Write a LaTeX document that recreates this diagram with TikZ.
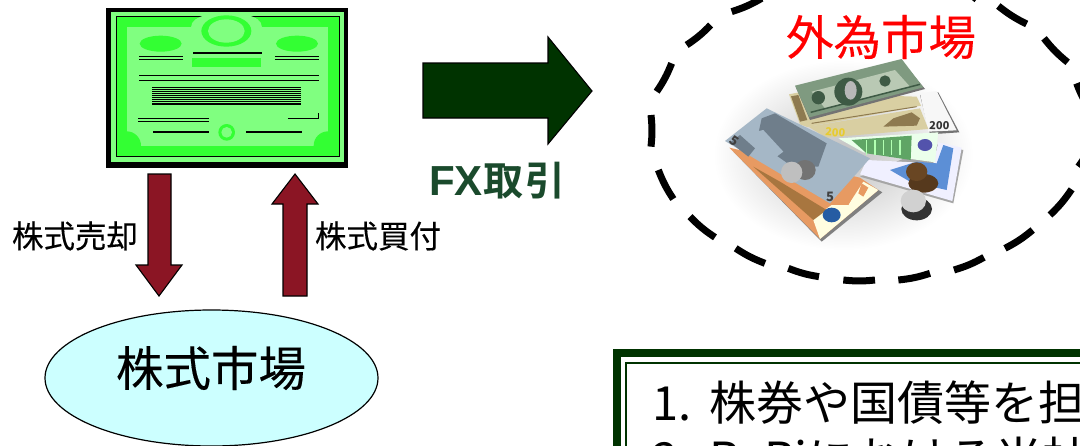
\documentclass[tikz,border=0pt]{standalone}
\usepackage{fontspec}
\setmainfont{Noto Sans CJK JP}
\newfontfamily\jpheavy[FakeBold=0.25]{Noto Sans CJK JP}
\newfontfamily\latinbold{Liberation Sans Bold}
\usetikzlibrary{shapes.geometric}
\definecolor{certlight}{HTML}{80FF80}
\definecolor{certdark}{HTML}{33FF33}
\definecolor{fxgreen}{HTML}{003300}
\definecolor{fxtext}{HTML}{1A4A2C}
\definecolor{wine}{HTML}{8B1524}
\definecolor{marketfill}{HTML}{CCFFFF}
\definecolor{slate}{HTML}{A5B7C6}
\definecolor{slatedark}{HTML}{6F7E8B}
\definecolor{dollar}{HTML}{7F9A80}
\definecolor{dollarlight}{HTML}{B9C9B4}
\definecolor{dollardark}{HTML}{3E5A45}
\definecolor{tan}{HTML}{D9CFA2}
\definecolor{tandark}{HTML}{8E7A50}
\definecolor{eurogreen}{HTML}{5FA565}
\definecolor{blueink}{HTML}{5C8FD6}
\definecolor{orangenote}{HTML}{E79A62}
\definecolor{orangedark}{HTML}{A8763F}
\tikzset{
  blockarrow/.style={draw=black,line width=1.1pt,line join=miter},
  biglabel/.style={font=\fontsize{47.5}{50}\jpheavy,inner sep=0pt,anchor=center},
  smalllabel/.style={font=\fontsize{31.5}{34}\jpheavy,inner sep=0pt,anchor=center},
  dashpiece/.style={line width=7pt,black},
  zoomscope/.style={x=0.33333pt,y=-0.33333pt},
  certline/.style={line width=1pt,black},
  certthick/.style={line width=1.7pt,black},
}
\begin{document}
\begin{tikzpicture}[x=1pt,y=-1pt]
\useasboundingbox (0,0) rectangle (1080,445);
\fill[white] (0,0) rectangle (1080,445);
\clip (0,0) rectangle (1080,445);

% certificate
\begin{scope}[shift={(90,0)},zoomscope]
  \fill[black] (48,24) rectangle (774,503);
  \fill[certlight] (64,37) rectangle (762,486);
  \fill[certdark] (78,49) rectangle (748,468);
  \draw[line width=.9pt] (78,49) rectangle (748,468);
  \fill[certlight] (110,82) rectangle (714,437);
  \fill[certlight] (303,82) .. controls (303,62) and (325,50) .. (345,46) -- (475,46) .. controls (495,50) and (516,62) .. (516,82) -- cycle;
  \fill[certdark] (409,93) ellipse [x radius=75,y radius=47];
  \fill[certlight] (409,93) ellipse [x radius=55,y radius=35];
  \fill[certdark] (212,131) ellipse [x radius=63,y radius=24];
  \fill[certdark] (621,131) ellipse [x radius=63,y radius=24];
  \begin{scope}
    \clip (110,82) rectangle (714,437);
    \fill[certdark] (110,437) circle [radius=43];
    \fill[certdark] (714,437) circle [radius=43];
  \end{scope}
  \fill[certdark] (306,175) rectangle (513,201);
  \fill[certdark] (410,397) circle [radius=25];
  \fill[certlight] (410,397) circle [radius=16];
  \draw[certthick] (310,158) -- (516,158);
  \foreach \yy in {169,179}{
    \draw[certline] (147,\yy) -- (279,\yy);
    \draw[certline] (555,\yy) -- (687,\yy);
  }
  \foreach \yy in {226,241} \draw[certline] (147,\yy) -- (687,\yy);
  \foreach \yy in {263,268,274,280,286,292,298,304,309,314} \draw[line width=.8pt] (186,\yy) -- (633,\yy);
  \foreach \yy in {354,364} \draw[certline] (144,\yy) -- (357,\yy);
  \draw[certline] (594,355) -- (686,355) -- (686,339);
  \draw[certthick] (189,396) -- (357,396);
  \draw[certthick] (468,396) -- (636,396);
\end{scope}

% block arrows
\draw[blockarrow,fill=wine] (148,174) -- (171,174) -- (171,265) -- (182,265) -- (159,296) -- (136,265) -- (148,265) -- cycle;
\draw[blockarrow,fill=wine] (295,174) -- (318,204) -- (307,204) -- (307,296) -- (283,296) -- (283,204) -- (272,204) -- cycle;
\draw[blockarrow,fill=fxgreen] (423,63) -- (548,63) -- (548,37) -- (592,91) -- (548,144) -- (548,118) -- (423,118) -- cycle;

% labels on the left
\node[smalllabel] (sell) at (75,236) {株式売却};
\node[smalllabel] (buy) at (378,236) {株式買付};
\node[draw=black,line width=1.2pt,fill=marketfill,ellipse,minimum width=333pt,minimum height=136pt,inner sep=0pt] (stockmarket) at (211.5,378) {};
\node[biglabel] (stocklabel) at (211,368) {株式市場};
\node[text=fxtext,inner sep=0pt,anchor=base west] (fx) at (429,195) {{\fontsize{42}{44}\latinbold FX}\hspace{1pt}{\fontsize{40}{42}\fontspec{Noto Sans CJK JP Bold}取\hspace{2pt}引}};

% dashed ring
\begin{scope}[shift={(640,0)},zoomscope]
  \foreach \xa/\ya/\xb/\yb in {275/35/365/-5,140/135/212/75,50/275/95/190,33/440/33/345,55/510/100/597,150/650/225/712,287/745/375/790,445/805/537/830,610/840/705/840,775/840/870/820,942/810/1032/772,1095/745/1178/690,1230/645/1295/568,1315/500/1345/450,1310/250/1345/320,1212/115/1283/187,1075/18/1160/72,990/-20/1010/-2}
    \draw[dashpiece] (\xa,\ya) to[bend right=6] (\xb,\yb);
\end{scope}
\node[biglabel,text=red] (fxmarket) at (881,37) {外為市場};

% banknotes
\begin{scope}[shift={(720,55)},zoomscope]
  \shade[inner color=black!25,outer color=white] (370,300) ellipse [x radius=390,y radius=285];
  % white note
  \fill[black!55] (600,120) -- (655,112) -- (718,232) -- (630,238) -- cycle;
  \fill[white!97!black] (600,115) -- (650,108) -- (710,226) -- (625,230) -- cycle;
  \node[font=\fontsize{11}{12}\selectfont\bfseries,text=black!80,inner sep=0pt,rotate=-2] (note200b) at (658,212) {200};
  % tan dollar
  \fill[tan] (207,118) -- (232,113) -- (590,125) -- (603,152) -- (262,216) -- (240,208) -- cycle;
  \fill[tandark] (213,124) -- (235,120) -- (262,195) -- (240,200) -- cycle;
  % green dollar
  \fill[black!55] (228,98) -- (545,18) -- (615,102) -- (270,195) -- cycle;
  \fill[dollar] (225,92) -- (545,12) -- (610,97) -- (268,187) -- cycle;
  \fill[dollarlight] (275,110) -- (525,45) -- (570,95) -- (315,160) -- cycle;
  \fill[dollardark] (385,110) ellipse [x radius=42,y radius=42];
  \fill[black!28!white] (392,106) ellipse [x radius=18,y radius=28];
  \fill[dollardark] (295,128) circle [radius=20];
  \fill[dollardark] (495,78) circle [radius=17];
  \draw[dollardark,line width=1.5pt] (272,172) -- (600,88);
  % tan 200 note
  \fill[tan] (265,215) -- (600,160) -- (625,222) -- (320,248) -- cycle;
  \fill[tandark] (490,215) -- (520,190) -- (575,172) -- (600,190) -- (590,212) -- cycle;
  \draw[tandark,line width=1pt] (275,205) -- (590,155);
  \node[font=\fontsize{11}{12}\selectfont\bfseries,text=yellow!60!brown,inner sep=0pt,rotate=-4] (note200a) at (346,233) {200};
  % blue note
  \fill[black!35] (420,365) -- (700,445) -- (730,285) -- (655,268) -- cycle;
  \fill[white!94!blue] (420,358) -- (697,438) -- (725,278) -- (655,262) -- (640,325) -- (440,315) -- cycle;
  \fill[blueink] (510,345) -- (590,320) -- (650,325) -- (670,270) -- (700,280) -- (680,405) -- (570,380) -- cycle;
  % green note
  \fill[white!92!green] (355,250) -- (655,232) -- (645,322) -- (430,292) -- cycle;
  \fill[eurogreen] (395,255) -- (575,242) -- (572,315) -- (440,295) -- cycle;
  \foreach \xx in {440,465,490,515,540} \draw[white!70!green,line width=1.2pt] (\xx,255) -- (\xx,300);
  \fill[blue!35!gray] (615,270) ellipse [x radius=22,y radius=18];
  % orange note
  \fill[black!50] (40,290) -- (305,560) -- (487,412) -- (420,372) -- cycle;
  \fill[orangenote] (28,278) -- (300,552) -- (475,405) -- (420,368) -- cycle;
  \fill[white!88!yellow] (278,490) -- (300,552) -- (475,405) -- (430,380) -- (385,450) -- (335,450) -- cycle;
  \fill[orangedark] (100,335) -- (180,380) -- (320,465) -- (280,495) -- cycle;
  \fill[orangenote] (365,440) -- (385,395) -- (405,410) -- (385,450) -- cycle;
  \fill[orangenote] (415,415) -- (425,385) -- (445,398) -- (430,425) -- cycle;
  \fill[blue!40!teal!70!gray] (335,480) ellipse [x radius=27,y radius=22];
  % grey 5 euro
  \fill[slate] (15,258) -- (140,160) -- (450,310) -- (330,445) -- cycle;
  \fill[slatedark] (125,190) -- (165,175) -- (320,265) -- (295,335) -- (210,330) -- (110,260) -- cycle;
  \fill[slate] (60,240) -- (130,225) -- (190,290) -- (150,320) -- cycle;
  \fill[slatedark] (30,262) -- (60,240) -- (105,280) -- (85,305) -- cycle;
  \node[font=\fontsize{13}{14}\selectfont\bfseries,text=black!75,inner sep=0pt,rotate=-35] (note5a) at (42,258) {5};
  \node[font=\fontsize{13}{14}\selectfont\bfseries,text=black!75,inner sep=0pt] (note5b) at (330,425) {5};
  % coins
  \fill[black!55] (255,345) ellipse [x radius=32,y radius=30];
  \fill[black!25] (215,352) ellipse [x radius=32,y radius=32];
  \fill[black!55!brown] (610,385) ellipse [x radius=45,y radius=28];
  \fill[brown!55!black] (590,350) ellipse [x radius=32,y radius=28];
  \fill[black!80] (590,462) ellipse [x radius=46,y radius=34];
  \fill[black!18] (580,438) ellipse [x radius=38,y radius=34];
\end{scope}

% text box
\draw[fxgreen,line width=8pt] (617,353) rectangle (1200,600);
\draw[fxgreen,line width=2pt] (626,363) rectangle (1200,600);
\node[font=\fontsize{47}{50}\selectfont,inner sep=0pt,anchor=base west] (line1) at (652,420) {1.\hspace{18pt}株券や国債等を担};
\node[font=\fontsize{47}{50}\selectfont,inner sep=0pt,anchor=base west] (line2) at (652,476) {2.\hspace{18pt}ReRiにおける当社};
\end{tikzpicture}
\end{document}
